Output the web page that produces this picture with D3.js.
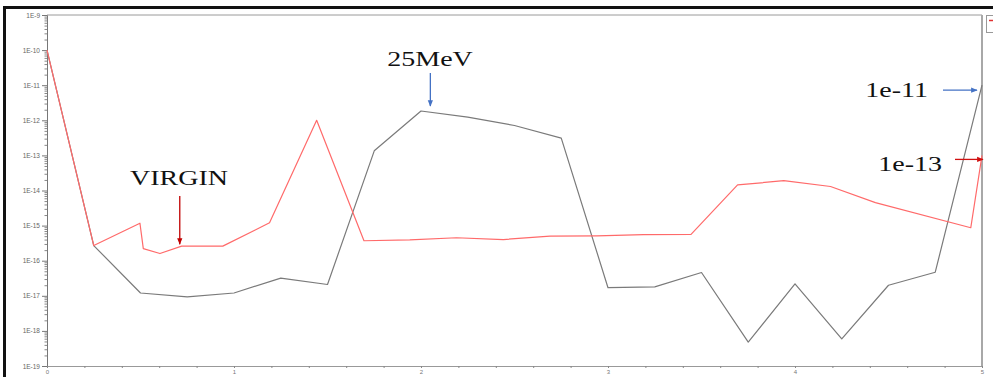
<!DOCTYPE html>
<html>
<head>
<meta charset="utf-8">
<script src="https://cdn.jsdelivr.net/npm/d3@7"></script>
<style>
  html, body { margin: 0; padding: 0; background: #fff; }
  svg { display: block; }
</style>
</head>
<body>
<svg id="chart" width="993" height="377"></svg>
<script>
// Gray series (25MeV run), sampled every 0.25
const grayX = [0, 0.25, 0.5, 0.75, 1.0, 1.25, 1.5, 1.75, 2.0, 2.25, 2.5, 2.75, 3.0, 3.25, 3.5, 3.75, 4.0, 4.25, 4.5, 4.75, 5.0];
const grayY = [1e-10, 2.7e-16, 1.2e-17, 9.3e-18, 1.2e-17, 3.2e-17, 2.1e-17, 1.35e-13, 1.84e-12, 1.23e-12, 7.1e-13, 3.1e-13, 1.7e-17, 1.8e-17, 4.6e-17, 4.8e-19, 2.2e-17, 5.9e-19, 2.0e-17, 4.7e-17, 1e-11];

// Red series (virgin sample)
const redX = [0, 0.25, 0.497, 0.515, 0.604, 0.72, 0.94, 1.19, 1.442, 1.695, 1.94, 2.19, 2.44, 2.69, 2.94, 3.19, 3.444, 3.693, 3.94, 4.19, 4.43, 4.94, 5.0];
const redY = [1e-10, 2.7e-16, 1.17e-15, 2.2e-16, 1.6e-16, 2.6e-16, 2.6e-16, 1.2e-15, 1e-12, 3.7e-16, 3.9e-16, 4.5e-16, 4.0e-16, 5.0e-16, 5.1e-16, 5.5e-16, 5.6e-16, 1.44e-14, 1.9e-14, 1.3e-14, 4.5e-15, 8.7e-16, 1e-13];

// Axis ticks
const xTickValues = [0, 1, 2, 3, 4, 5];
const yExponents = [-9, -10, -11, -12, -13, -14, -15, -16, -17, -18, -19];

// Text notes with arrows
const noteLabels = ["VIRGIN", "25MeV", "1e-11", "1e-13"];

const svg = d3.select("#chart");
const x = d3.scaleLinear().domain([0, 5]).range([47, 982]);
const y = d3.scaleLog().domain([1e-19, 1e-9]).range([366, 15]);

// outer frame of the figure
svg.append("line").attr("x1", 3).attr("x2", 993).attr("y1", 7.5).attr("y2", 7.5)
  .attr("stroke", "#111").attr("stroke-width", 3);
svg.append("line").attr("x1", 4.5).attr("x2", 4.5).attr("y1", 6).attr("y2", 377)
  .attr("stroke", "#111").attr("stroke-width", 3);

// plot frame
svg.append("line").attr("x1", x(0)).attr("x2", x(5)).attr("y1", y(1e-9)).attr("y2", y(1e-9))
  .attr("stroke", "#9a9a9a").attr("stroke-width", 1);
svg.append("line").attr("x1", x(5)).attr("x2", x(5)).attr("y1", y(1e-9)).attr("y2", y(1e-19))
  .attr("stroke", "#a8a8a8").attr("stroke-width", 2);

// legend stub at the right edge
svg.append("rect").attr("x", 986.5).attr("y", 15.5).attr("width", 10).attr("height", 17)
  .attr("fill", "#fff").attr("stroke", "#999");
svg.append("line").attr("x1", 989).attr("x2", 993).attr("y1", 20.5).attr("y2", 20.5)
  .attr("stroke", "#e03030").attr("stroke-width", 1.5);

// y axis: labelled decades
const decades = yExponents.map(e => Math.pow(10, e));
const yAxis = d3.axisLeft(y).tickValues(decades).tickSize(5).tickPadding(2)
  .tickFormat(d => "1E" + Math.round(Math.log10(d)));
const gy = svg.append("g").attr("transform", `translate(${x(0)},0)`).call(yAxis);
gy.select(".domain").attr("stroke", "#777");
gy.selectAll(".tick line").attr("stroke", "#777");
gy.selectAll(".tick text").attr("fill", "#666").attr("font-family", "Arial, 'Liberation Sans', sans-serif")
  .attr("font-size", 6.5);

// y axis: minor ticks
const minor = [];
yExponents.slice(1).forEach(e => { for (let m = 2; m <= 9; m++) minor.push(m * Math.pow(10, e)); });
const gym = svg.append("g").attr("transform", `translate(${x(0)},0)`)
  .call(d3.axisLeft(y).tickValues(minor).tickSize(2.5).tickFormat(""));
gym.select(".domain").remove();
gym.selectAll(".tick line").attr("stroke", "#888");

// x axis
const gx = svg.append("g").attr("transform", `translate(0,${y(1e-19)})`)
  .call(d3.axisBottom(x).tickValues(xTickValues).tickSize(2).tickPadding(2).tickFormat(d3.format("d")));
gx.select(".domain").attr("stroke", "#999");
gx.selectAll(".tick line").attr("stroke", "#888");
gx.selectAll(".tick text").attr("fill", "#777").attr("font-family", "Arial, 'Liberation Sans', sans-serif")
  .attr("font-size", 6);
const xMinor = d3.range(0, 5.0001, 0.2).map(v => +v.toFixed(1)).filter(v => !xTickValues.includes(v));
const gxm = svg.append("g").attr("transform", `translate(0,${y(1e-19)})`)
  .call(d3.axisBottom(x).tickValues(xMinor).tickSize(2).tickFormat(""));
gxm.select(".domain").remove();
gxm.selectAll(".tick line").attr("stroke", "#888");

// data lines
const line = d3.line().x(d => x(d[0])).y(d => y(d[1]));
svg.append("path").datum(grayX.map((v, i) => [v, grayY[i]]))
  .attr("d", line).attr("fill", "none").attr("stroke", "#7a7a7a").attr("stroke-width", 1.2)
  .attr("stroke-linejoin", "round");
svg.append("path").datum(redX.map((v, i) => [v, redY[i]]))
  .attr("d", line).attr("fill", "none").attr("stroke", "#ff6a6a").attr("stroke-width", 1.2)
  .attr("stroke-linejoin", "round");

// arrow markers
const defs = svg.append("defs");
function marker(id, color) {
  defs.append("marker").attr("id", id).attr("viewBox", "0 0 10 10").attr("refX", 9).attr("refY", 5)
    .attr("markerWidth", 5).attr("markerHeight", 5).attr("orient", "auto")
    .append("path").attr("d", "M0,1 L10,5 L0,9 Z").attr("fill", color);
}
marker("arrDarkRed", "#c00000");
marker("arrRed", "#d01010");
marker("arrBlue", "#4472c4");

function arrow(x1, y1, x2, y2, color, id) {
  svg.append("line").attr("x1", x1).attr("y1", y1).attr("x2", x2).attr("y2", y2)
    .attr("stroke", color).attr("stroke-width", 1.3).attr("marker-end", `url(#${id})`);
}
// annotation text is set wide (horizontally stretched serif)
function note(text, tx, ty, anchor) {
  svg.append("text").attr("transform", `translate(${tx},${ty}) scale(1.4,1)`)
    .attr("text-anchor", anchor)
    .attr("font-family", "'Liberation Serif', 'Times New Roman', serif").attr("font-size", 20)
    .attr("fill", "#111").text(text);
}

// VIRGIN
note(noteLabels[0], 179, 185, "middle");
arrow(x(0.71), 196, x(0.71), y(2.6e-16) - 2, "#c00000", "arrDarkRed");

// 25MeV, pointing at the gray maximum
note(noteLabels[1], 430, 66, "middle");
arrow(x(2.05), 73, x(2.05), y(1.84e-12) - 5, "#4472c4", "arrBlue");

// end values
note(noteLabels[2], 928, 97, "end");
arrow(943, y(1e-11) + 5, x(5) - 5, y(1e-11) + 5, "#4472c4", "arrBlue");
note(noteLabels[3], 942, 171, "end");
arrow(955, y(1e-13) + 4, x(5) + 1, y(1e-13) + 4, "#d01010", "arrRed");
</script>
</body>
</html>
